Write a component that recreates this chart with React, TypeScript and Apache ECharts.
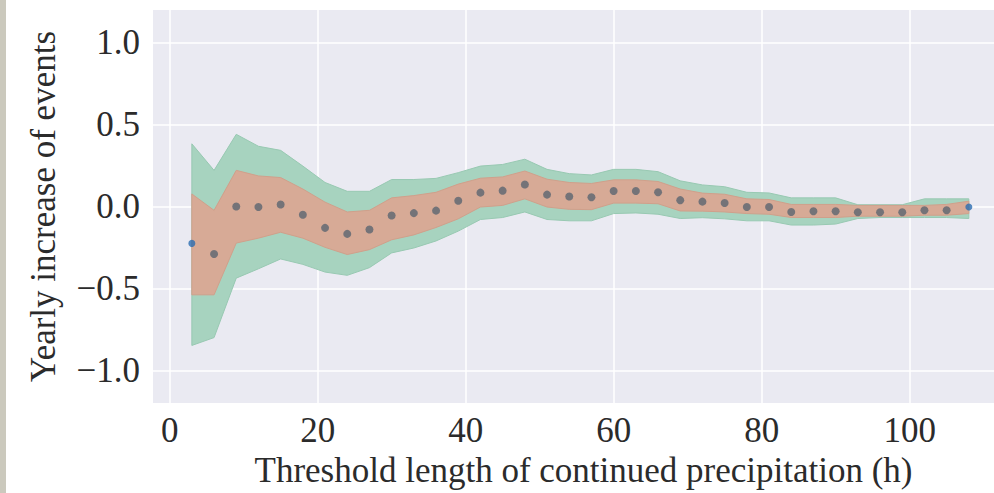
import React, { useEffect, useRef } from "react";
import * as echarts from "echarts";

const xs = [3, 6, 9, 12, 15, 18, 21, 24, 27, 30, 33, 36, 39, 42, 45, 48, 51, 54, 57, 60, 63, 66, 69, 72, 75, 78, 81, 84, 87, 90, 93, 96, 99, 102, 105, 108];

const meanValues = [-0.225, -0.29, 0.0, -0.003, 0.013, -0.05, -0.13, -0.167, -0.14, -0.055, -0.04, -0.025, 0.035, 0.085, 0.097, 0.135, 0.073, 0.061, 0.057, 0.095, 0.095, 0.087, 0.039, 0.03, 0.022, -0.003, -0.003, -0.033, -0.029, -0.029, -0.035, -0.035, -0.035, -0.023, -0.023, -0.003];

const outerUpper = [0.383, 0.221, 0.441, 0.368, 0.343, 0.247, 0.147, 0.093, 0.093, 0.165, 0.165, 0.172, 0.207, 0.247, 0.257, 0.289, 0.227, 0.201, 0.193, 0.227, 0.227, 0.213, 0.157, 0.132, 0.121, 0.087, 0.083, 0.053, 0.053, 0.053, 0.011, 0.011, 0.011, 0.047, 0.047, 0.047];

const outerLower = [-0.848, -0.8, -0.437, -0.38, -0.32, -0.353, -0.4, -0.42, -0.373, -0.283, -0.253, -0.21, -0.15, -0.079, -0.067, -0.033, -0.079, -0.087, -0.087, -0.043, -0.039, -0.047, -0.073, -0.068, -0.075, -0.087, -0.087, -0.113, -0.113, -0.107, -0.073, -0.067, -0.067, -0.067, -0.067, -0.073];

const innerUpper = [0.077, -0.023, 0.221, 0.187, 0.177, 0.107, 0.027, -0.033, -0.023, 0.053, 0.067, 0.087, 0.137, 0.173, 0.181, 0.217, 0.167, 0.147, 0.141, 0.163, 0.163, 0.153, 0.107, 0.082, 0.075, 0.047, 0.043, 0.013, 0.013, 0.013, 0.007, 0.007, 0.007, 0.007, 0.013, 0.033];

const innerLower = [-0.539, -0.539, -0.223, -0.193, -0.157, -0.193, -0.249, -0.293, -0.263, -0.203, -0.173, -0.128, -0.075, -0.003, 0.007, 0.047, -0.003, -0.017, -0.019, 0.021, 0.021, 0.017, -0.027, -0.028, -0.033, -0.043, -0.047, -0.067, -0.067, -0.067, -0.059, -0.059, -0.059, -0.053, -0.053, -0.043];

const xTicks = [0, 20, 40, 60, 80, 100];
const yTicks = [-1.0, -0.5, 0.0, 0.5, 1.0];

const xTitle = "Threshold length of continued precipitation (h)";
const yTitle = "Yearly increase of events";

const FONT = "'Liberation Serif', 'DejaVu Serif', serif";
const TEXT_COLOR = "#2b2b2b";

function bandSeries(name: string, lower: number[], upper: number[], fill: string, stroke: string, z: number) {
  return {
    type: "custom",
    name,
    z,
    silent: true,
    data: xs.map((x, i) => [x, lower[i], upper[i]]),
    encode: { x: 0, y: [1, 2] },
    renderItem: (params: any, api: any) => {
      if (params.dataIndex !== 0) return { type: "group", children: [] };
      const pts: number[][] = [];
      for (let i = 0; i < xs.length; i++) pts.push(api.coord([xs[i], upper[i]]));
      for (let i = xs.length - 1; i >= 0; i--) pts.push(api.coord([xs[i], lower[i]]));
      return {
        type: "polygon",
        shape: { points: pts },
        style: { fill, stroke, lineWidth: 1 },
      };
    },
  };
}

export default function App() {
  const ref = useRef<HTMLDivElement>(null);

  useEffect(() => {
    if (!ref.current) return;
    const chart = echarts.init(ref.current, undefined, { renderer: "svg" });
    const last = xs.length - 1;
    chart.setOption({
      animation: false,
      backgroundColor: "#ffffff",
      grid: {
        left: 153,
        right: 0,
        top: 10,
        bottom: 84,
        show: true,
        backgroundColor: "#EAEAF2",
        borderWidth: 0,
      },
      graphic: [
        {
          type: "rect",
          left: 0,
          top: 0,
          shape: { width: 6, height: 493 },
          style: { fill: "#cbc9bd" },
          z: 100,
        },
      ],
      xAxis: {
        type: "value",
        min: -2.25,
        max: 111.4,
        name: xTitle,
        nameLocation: "middle",
        nameGap: 48,
        nameTextStyle: { fontFamily: FONT, fontSize: 35, color: TEXT_COLOR, padding: [0, 0, 0, 20] },
        axisLine: { show: false },
        axisTick: { show: false, customValues: xTicks },
        axisLabel: {
          customValues: xTicks,
          fontFamily: FONT,
          fontSize: 35,
          color: TEXT_COLOR,
          margin: 10,
          formatter: (v: number) => String(Math.round(v)),
        },
        splitLine: { show: true, lineStyle: { color: "#ffffff", width: 1.5 } },
      },
      yAxis: {
        type: "value",
        min: -1.2,
        max: 1.2,
        name: yTitle,
        nameLocation: "middle",
        nameGap: 92,
        nameRotate: 90,
        nameTextStyle: { fontFamily: FONT, fontSize: 35, color: TEXT_COLOR },
        axisLine: { show: false },
        axisTick: { show: false, customValues: yTicks },
        axisLabel: {
          customValues: yTicks,
          fontFamily: FONT,
          fontSize: 35,
          color: TEXT_COLOR,
          margin: 13,
          formatter: (v: number) => v.toFixed(1).replace("-", "\u2212"),
        },
        splitLine: { show: true, lineStyle: { color: "#ffffff", width: 1.5 } },
      },
      series: [
        bandSeries("outer", outerLower, outerUpper, "#A7D3BF", "#98c9b2", 2),
        bandSeries("inner", innerLower, innerUpper, "#D7AA96", "#d0a08b", 3),
        {
          type: "scatter",
          z: 5,
          data: xs.map((x, i) => ({
            value: [x, meanValues[i]],
            symbolSize: i === 0 || i === last ? 7 : 8,
            itemStyle: { color: i === 0 || i === last ? "#2a6db0" : "#5b6570" },
          })),
          symbol: "circle",
        },
      ],
    });
    return () => chart.dispose();
  }, []);

  return (
    <div
      ref={ref}
      style={{ position: "absolute", left: 0, top: 0, width: 994, height: 493 }}
    />
  );
}
